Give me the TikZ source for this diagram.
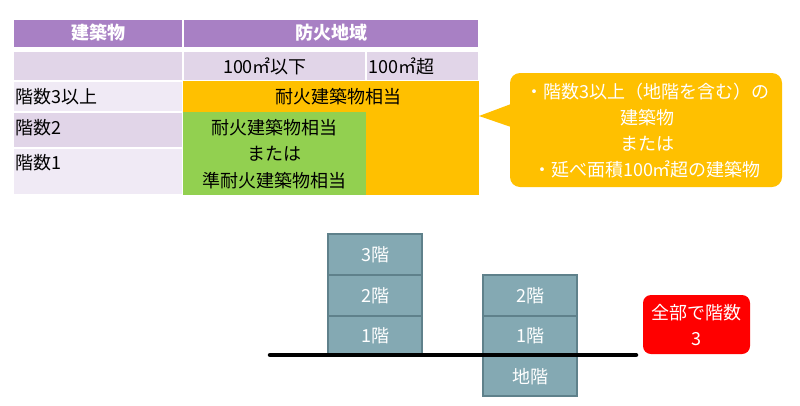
\documentclass[tikz,border=0pt]{standalone}
\usepackage{fontspec}
\setmainfont{Noto Sans CJK JP}
\usetikzlibrary{positioning}
\definecolor{hdr}{HTML}{A880C4}
\definecolor{lav}{HTML}{E1D5E8}
\definecolor{lite}{HTML}{F0EAF5}
\definecolor{org}{HTML}{FFC000}
\definecolor{grn}{HTML}{92D050}
\definecolor{bld}{HTML}{84A9B3}
\definecolor{bldline}{HTML}{5F818B}
\begin{document}
\begin{tikzpicture}[x=1pt,y=-1pt,
  txt/.style={inner sep=0pt,font=\fontsize{18}{21}\selectfont},
  wtxt/.style={txt,text=white},
  cellbox/.style={draw=white,line width=1.5pt},
  floor/.style={fill=bld,draw=bldline,line width=1.2pt}]
\useasboundingbox (0,0) rectangle (800,405);
% header
\path[cellbox,fill=hdr] (13,19) rectangle (183,48);
\path[cellbox,fill=hdr] (183,19) rectangle (479,48);
\node[wtxt,font=\fontsize{18}{21}\selectfont\bfseries] (h1) at (98,33) {建築物};
\node[wtxt,font=\fontsize{18}{21}\selectfont\bfseries] (h2) at (331,33) {防火地域};
% row 2
\path[cellbox,fill=lav] (13,51) rectangle (183,81);
\path[cellbox,fill=lav] (183,51) rectangle (366,81);
\path[cellbox,fill=lav] (366,51) rectangle (479,81);
\node[txt] (c1) at (265,66) {100㎡以下};
\node[txt,anchor=west] (c2) at (368,66) {100㎡超};
% first column
\path[cellbox,fill=lite] (13,81) rectangle (183,112);
\path[cellbox,fill=lav] (13,112) rectangle (183,148);
\path[cellbox,fill=lite] (13,148) rectangle (183,195);
\node[txt,anchor=west] (r3) at (15,97) {階数3以上};
\node[txt,anchor=west] (r2) at (15,128) {階数2};
\node[txt,anchor=west] (r1) at (15,163) {階数1};
% orange & green
\fill[org] (183,81) rectangle (479,195);
\fill[grn] (183,112) rectangle (366,195);
\node[txt] (o1) at (338,97) {耐火建築物相当};
\node[txt,align=center,font=\fontsize{18}{26.5}\selectfont] (g1) at (274,154) {耐火建築物相当\\または\\準耐火建築物相当};
% callout
\fill[org,rounded corners=10pt] (510,73) rectangle (782,187);
\fill[org] (511,104) -- (479,116) -- (511,127) -- cycle;
\node[wtxt,align=center,font=\fontsize{18}{26}\selectfont] (call) at (647,131) {・階数3以上（地階を含む）の\\建築物\\または\\・延べ面積100㎡超の建築物};
% left building
\path[floor] (328,234) rectangle (422,275);
\path[floor] (328,275) rectangle (422,316);
\path[floor] (328,316) rectangle (422,355);
\node[wtxt] (a3) at (375,255) {3階};
\node[wtxt] (a2) at (375,296) {2階};
\node[wtxt] (a1) at (375,336) {1階};
% right building
\path[floor] (483,275) rectangle (577,316);
\path[floor] (483,316) rectangle (577,355);
\path[floor] (483,355) rectangle (577,396);
\node[wtxt] (b2) at (530,296) {2階};
\node[wtxt] (b1) at (530,336) {1階};
\node[wtxt] (b0) at (530,377) {地階};
% ground
\coordinate (gl) at (270,355);
\coordinate (gr) at (636,355);
\draw[line width=4.5pt,line cap=round] (gl) -- (gr);
% red box
\fill[red,rounded corners=8pt] (643,295) rectangle (750,354);
\node[wtxt,align=center,font=\fontsize{18}{26}\selectfont] (tot) at (696.5,325) {全部で階数\\3};
\end{tikzpicture}
\end{document}
